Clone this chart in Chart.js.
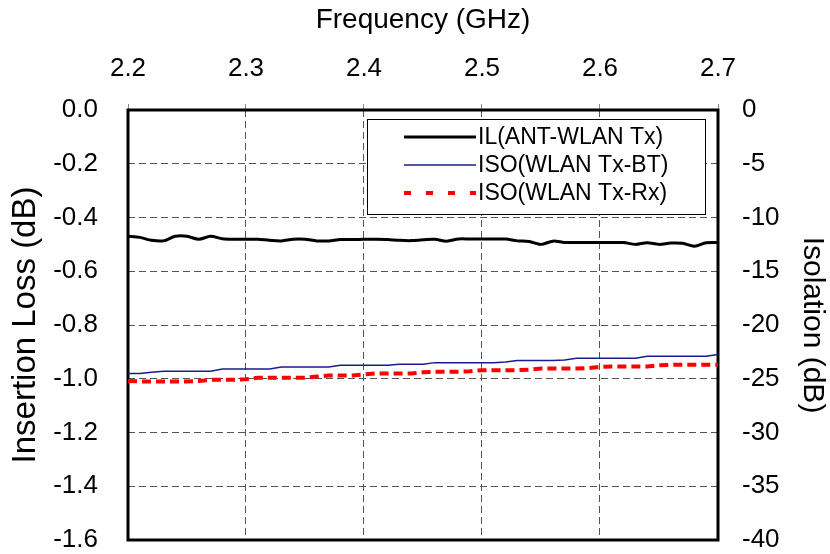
<!DOCTYPE html>
<html>
<head>
<meta charset="utf-8">
<script src="https://cdn.jsdelivr.net/npm/chart.js@4"></script>
<style>
  html, body { margin: 0; padding: 0; background: #fff; }
</style>
</head>
<body>
<canvas id="myChart" width="830" height="554"></canvas>
<script>
// frequency points (GHz)
var freq = [2.20, 2.21, 2.22, 2.23, 2.24, 2.25, 2.26, 2.27, 2.28, 2.29,
            2.30, 2.31, 2.32, 2.33, 2.34, 2.35, 2.36, 2.37, 2.38, 2.39,
            2.40, 2.41, 2.42, 2.43, 2.44, 2.45, 2.46, 2.47, 2.48, 2.49,
            2.50, 2.51, 2.52, 2.53, 2.54, 2.55, 2.56, 2.57, 2.58, 2.59,
            2.60, 2.61, 2.62, 2.63, 2.64, 2.65, 2.66, 2.67, 2.68, 2.69, 2.70];

// IL(ANT-WLAN Tx), left axis (dB)
var ilAntTx = [-0.470, -0.474, -0.485, -0.487, -0.470, -0.470, -0.481, -0.470, -0.479, -0.481,
               -0.481, -0.481, -0.485, -0.487, -0.481, -0.481, -0.487, -0.487, -0.482, -0.482,
               -0.481, -0.481, -0.482, -0.485, -0.486, -0.483, -0.481, -0.488, -0.480, -0.480,
               -0.480, -0.480, -0.480, -0.487, -0.489, -0.500, -0.488, -0.493, -0.493, -0.493,
               -0.493, -0.493, -0.493, -0.500, -0.494, -0.500, -0.495, -0.496, -0.507, -0.494, -0.493];

// ISO(WLAN Tx-BT), right axis (dB)
var isoTxBt = [-24.5, -24.5, -24.4, -24.3, -24.3, -24.3, -24.3, -24.3, -24.1, -24.1,
               -24.1, -24.1, -24.1, -23.9, -23.9, -23.9, -23.9, -23.9, -23.75, -23.75,
               -23.75, -23.75, -23.75, -23.65, -23.65, -23.65, -23.5, -23.5, -23.5, -23.5,
               -23.5, -23.5, -23.45, -23.3, -23.3, -23.3, -23.3, -23.25, -23.1, -23.1,
               -23.1, -23.1, -23.1, -23.1, -22.9, -22.9, -22.9, -22.9, -22.9, -22.9, -22.75];

// ISO(WLAN Tx-Rx), right axis (dB)
var isoTxRx = [-25.2, -25.25, -25.25, -25.25, -25.25, -25.25, -25.2, -25.1, -25.1, -25.1,
               -25.05, -24.9, -24.9, -24.9, -24.9, -24.9, -24.8, -24.7, -24.7, -24.7,
               -24.6, -24.5, -24.5, -24.5, -24.5, -24.4, -24.35, -24.35, -24.35, -24.3,
               -24.2, -24.2, -24.2, -24.2, -24.15, -24.05, -24.05, -24.05, -24.05, -24.0,
               -23.9, -23.85, -23.85, -23.85, -23.85, -23.75, -23.7, -23.7, -23.7, -23.7, -23.7];

var seriesNames = ['IL(ANT-WLAN Tx)', 'ISO(WLAN Tx-BT)', 'ISO(WLAN Tx-Rx)'];

function pts(vals) {
    return freq.map(function (f, i) { return { x: f, y: vals[i] }; });
}

var FONT = "'Liberation Sans', Arial, sans-serif";
var gridDash = [7, 4];

// black frame around the plot area
var framePlugin = {
    id: 'frame',
    beforeDatasetsDraw: function (chart) {
        var a = chart.chartArea, c = chart.ctx;
        c.save();
        c.strokeStyle = '#000';
        c.lineWidth = 3;
        c.strokeRect(a.left, a.top, a.right - a.left, a.bottom - a.top);
        c.restore();
    }
};

// boxed legend inside the plot
var legendPlugin = {
    id: 'boxLegend',
    afterDatasetsDraw: function (chart) {
        var a = chart.chartArea, c = chart.ctx;
        var bx = a.left + 239, by = a.top + 9, bw = 338, bh = 95;
        c.save();
        c.fillStyle = '#fff';
        c.fillRect(bx, by, bw, bh);
        c.strokeStyle = '#000';
        c.lineWidth = 1;
        c.strokeRect(bx + 0.5, by + 0.5, bw, bh);
        c.font = '23px ' + FONT;
        c.textBaseline = 'middle';
        c.textAlign = 'left';
        chart.data.datasets.forEach(function (ds, i) {
            var yy = by + 18 + i * 28;
            c.beginPath();
            c.strokeStyle = ds.borderColor;
            c.lineWidth = ds.borderWidth;
            c.setLineDash(ds.legendDash || []);
            c.moveTo(bx + 37, yy);
            c.lineTo(bx + 109, yy);
            c.stroke();
            c.setLineDash([]);
            c.fillStyle = '#000';
            c.fillText(ds.label, bx + 111, yy + 1);
        });
        c.restore();
    }
};

function noPadY(s) { s.paddingTop = 0; s.paddingBottom = 0; }

var ctx = document.getElementById('myChart').getContext('2d');
var chart = new Chart(ctx, {
    type: 'line',
    data: {
        datasets: [
            {
                label: seriesNames[0],
                data: pts(ilAntTx),
                yAxisID: 'y',
                borderColor: '#000',
                borderWidth: 3,
                pointRadius: 0,
                tension: 0.3
            },
            {
                label: seriesNames[1],
                data: pts(isoTxBt),
                yAxisID: 'y1',
                borderColor: '#1c1c8a',
                borderWidth: 1.5,
                pointRadius: 0,
                tension: 0
            },
            {
                label: seriesNames[2],
                data: pts(isoTxRx),
                yAxisID: 'y1',
                borderColor: '#ff0000',
                borderWidth: 4,
                borderDash: [9, 5],
                legendDash: [7, 15],
                pointRadius: 0,
                tension: 0
            }
        ]
    },
    options: {
        responsive: false,
        animation: false,
        devicePixelRatio: 1,
        layout: { padding: { left: 0, right: 0, top: 0, bottom: 14 } },
        plugins: {
            legend: { display: false },
            tooltip: { enabled: false }
        },
        scales: {
            x: {
                type: 'linear',
                position: 'top',
                min: 2.2,
                max: 2.7,
                afterFit: function (s) { s.height = 110; s.paddingLeft = 0; s.paddingRight = 0; },
                ticks: {
                    stepSize: 0.1,
                    padding: 20,
                    color: '#000',
                    font: { family: FONT, size: 26 },
                    callback: function (v) { return v.toFixed(1); }
                },
                grid: {
                    color: '#555',
                    lineWidth: 1,
                    drawTicks: true,
                    tickLength: 6,
                    tickColor: '#888',
                    tickBorderDash: []
                },
                border: { display: false, dash: gridDash },
                title: {
                    display: true,
                    text: 'Frequency (GHz)',
                    color: '#000',
                    font: { family: FONT, size: 28 },
                    padding: { top: 3, bottom: 0 }
                }
            },
            y: {
                position: 'left',
                min: -1.6,
                max: 0,
                afterFit: function (s) { s.width = 128; noPadY(s); },
                ticks: {
                    stepSize: 0.2,
                    padding: 30,
                    color: '#000',
                    font: { family: FONT, size: 26 },
                    callback: function (v) { return v.toFixed(1); }
                },
                grid: { color: '#555', lineWidth: 1, drawTicks: false },
                border: { display: false, dash: gridDash },
                title: {
                    display: true,
                    text: 'Insertion Loss (dB)',
                    color: '#000',
                    font: { family: FONT, size: 33 },
                    padding: { top: 6, bottom: 0 }
                }
            },
            y1: {
                position: 'right',
                min: -40,
                max: 0,
                afterFit: function (s) { s.width = 112; noPadY(s); },
                ticks: {
                    stepSize: 5,
                    padding: 24,
                    color: '#000',
                    font: { family: FONT, size: 26 }
                },
                grid: { display: false, drawTicks: false },
                border: { display: false },
                title: {
                    display: true,
                    text: 'Isolation (dB)',
                    color: '#000',
                    font: { family: FONT, size: 30 },
                    padding: { top: 0, bottom: 0 }
                }
            }
        }
    },
    plugins: [framePlugin, legendPlugin]
});
</script>
</body>
</html>
